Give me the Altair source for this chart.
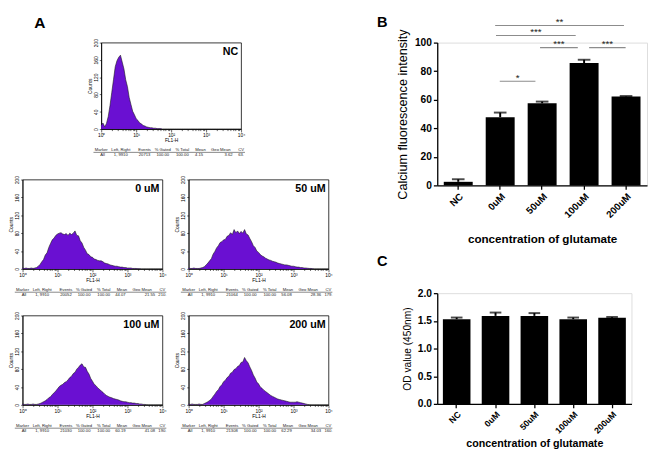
import altair as alt
import pandas as pd

# ---------------- data ----------------
# histogram channel positions (log10 of FL1-H)
FL_LOG = [0.00, 0.05, 0.10, 0.15, 0.20, 0.25, 0.30, 0.35, 0.40, 0.45,
          0.50, 0.55, 0.60, 0.65, 0.70, 0.75, 0.80, 0.85, 0.90, 0.95,
          1.00, 1.05, 1.10, 1.15, 1.20, 1.25, 1.30, 1.35, 1.40, 1.45,
          1.50, 1.55, 1.60, 1.65, 1.70, 1.75, 1.80, 1.85, 1.90, 1.95,
          2.00, 2.05, 2.10, 2.15, 2.20, 2.25, 2.30, 2.35, 2.40, 2.45,
          2.50, 2.55, 2.60, 2.65, 2.70, 2.75, 2.80, 2.85, 2.90, 2.95,
          3.00, 3.05, 3.10, 3.15, 3.20, 3.25, 3.30, 3.35, 3.40, 3.45,
          3.50, 3.55, 3.60, 3.65, 3.70, 3.75, 3.80, 3.85, 3.90, 3.95,
          4.00]

COUNTS_NC = [9, 14, 5, 13, 29, 54, 84, 114, 144, 158,
             166, 171, 155, 139, 114, 98, 73, 57, 41, 33,
             24, 20, 14, 12, 8, 7, 5, 4, 3, 3,
             2, 2, 1, 1, 1, 0, 0, 0, 0, 0,
             0, 0, 0, 0, 0, 0, 0, 0, 0, 0,
             0, 0, 0, 0, 0, 0, 0, 0, 0, 0,
             0, 0, 0, 0, 0, 0, 0, 0, 0, 0,
             0, 0, 0, 0, 0, 0, 0, 0, 0, 0,
             0]
COUNTS_0 = [2, 1, 2, 1, 1, 2, 1, 2, 3, 6,
            10, 16, 21, 31, 36, 48, 57, 65, 69, 75,
            78, 80, 81, 78, 77, 79, 75, 80, 77, 80,
            85, 75, 74, 63, 58, 48, 42, 34, 32, 27,
            26, 22, 21, 19, 18, 18, 16, 13, 12, 11,
            9, 8, 7, 6, 6, 5, 4, 4, 3, 3,
            2, 2, 2, 1, 1, 1, 0.5, 0.5, 0, 0,
            0, 0, 0, 0, 0, 0, 0, 0, 0, 0,
            0]
COUNTS_50 = [2, 1, 1, 2, 1, 1, 1, 2, 3, 5,
             9, 13, 18, 23, 33, 39, 47, 52, 59, 61,
             65, 66, 73, 75, 81, 77, 88, 81, 85, 79,
             84, 80, 88, 78, 76, 68, 61, 52, 48, 40,
             37, 32, 29, 27, 24, 22, 20, 19, 17, 16,
             15, 13, 12, 11, 10, 9, 9, 8, 7, 6,
             6, 5, 4, 4, 3, 3, 2, 2, 1.5, 1,
             1, 0.5, 0, 0, 0, 0, 0, 0, 0, 0,
             0]
COUNTS_100 = [2, 1, 1, 2, 1, 1, 2, 1, 1, 2,
              3, 5, 7, 9, 12, 16, 18, 23, 27, 31,
              36, 41, 44, 46, 50, 52, 56, 61, 64, 70,
              73, 80, 84, 89, 92, 85, 84, 75, 69, 59,
              53, 46, 43, 38, 35, 31, 28, 24, 21, 19,
              17, 16, 14, 13, 12, 11, 9, 8, 7, 7,
              6, 5, 5, 4, 4, 3, 3, 2, 2, 1,
              1, 0.5, 0, 0, 0, 0, 0, 0, 0, 0,
              0]
COUNTS_200 = [2, 1, 2, 1, 1, 1, 2, 1, 1, 3,
              5, 7, 10, 13, 19, 24, 30, 34, 41, 45,
              52, 55, 61, 64, 71, 73, 79, 81, 86, 88,
              95, 96, 106, 99, 94, 85, 77, 67, 60, 51,
              47, 40, 37, 33, 30, 27, 24, 21, 19, 17,
              15, 13, 12, 11, 10, 9, 8, 7, 6, 6,
              6, 6, 7, 6, 5, 4, 3, 2, 1, 0.5,
              0, 0, 0, 0, 0, 0, 0, 0, 0, 0,
              0]

DECADE_VALUES = [1, 10, 100, 1000, 10000]
DECADE_LABELS = ["10\u2070", "10\u00b9", "10\u00b2", "10\u00b3", "10\u2074"]
COUNT_TICKS = [0, 40, 80, 120, 160, 200]

STATS_HEADER = ["Marker", "Left, Right", "Events", "% Gated", "% Total", "Mean", "Geo Mean", "CV"]
STATS_NC = ["All", "1, 9910", "20713", "100.00", "100.00", "4.15", "3.62", "63."]
STATS_0 = ["All", "1, 9910", "20052", "100.00", "100.00", "44.07", "21.55", "210."]
STATS_50 = ["All", "1, 9910", "21064", "100.00", "100.00", "56.08", "28.36", "179."]
STATS_100 = ["All", "1, 9910", "21030", "100.00", "100.00", "60.19", "41.08", "190."]
STATS_200 = ["All", "1, 9910", "21308", "100.00", "100.00", "62.29", "34.03", "160."]

GROUPS = ["NC", "0uM", "50uM", "100uM", "200uM"]
CALCIUM_MEAN = [2.5, 47.8, 57.5, 85.7, 62.3]
CALCIUM_SEM = [1.8, 3.2, 1.2, 2.3, 0.3]
OD_MEAN = [1.53, 1.59, 1.59, 1.53, 1.555]
OD_SEM = [0.03, 0.06, 0.05, 0.03, 0.015]

# significance brackets (positions in group-index units)
SIG_FROM = [0.99, 1.95, 3.12, 0.90, 0.88]
SIG_TO = [1.84, 2.85, 3.99, 2.80, 3.95]
SIG_Y = [73, 96.5, 96.5, 105, 112]
SIG_LABEL = ["*", "***", "***", "***", "**"]

# ---------------- style ----------------
SANS = "Liberation Sans, Arial, sans-serif"
NARROW = "Liberation Sans Narrow, Arial Narrow, Liberation Sans, sans-serif"
PURPLE = "#6a10d2"
HW, HH = 144, 92
HEADER_FRAC = [0.0, 0.14, 0.31, 0.44, 0.58, 0.71, 0.855, 1.0]
VALUE_FRAC = [0.01, 0.14, 0.31, 0.44, 0.58, 0.70, 0.91, 1.0]

label_expr = " : ".join(
    f"datum.value == {v} ? '{t}'" for v, t in zip(DECADE_VALUES, DECADE_LABELS)
) + " : ''"
major_test = "indexof([" + ",".join(str(v) for v in DECADE_VALUES) + "], datum.value) >= 0"


def hist_panel(counts, label, stats, h=HH, letter=None):
    df = pd.DataFrame({"lx": FL_LOG, "count": counts})
    xaxis = alt.Axis(title="FL1-H", titleFontSize=5, titleFontWeight="normal", titlePadding=0.5,
                     labelFontSize=5, labelPadding=0.5, tickCount=10, labelExpr=label_expr,
                     labelOverlap=False, labelFlush=False, grid=False,
                     tickSize={"condition": {"test": major_test, "value": 3}, "value": 1.6},
                     tickWidth=0.6, tickColor="black", domainColor="black", domainWidth=0.8,
                     labelColor="black", titleColor="black")
    yaxis = alt.Axis(title="Counts", titleFontSize=5, titleFontWeight="normal", titlePadding=1,
                     values=COUNT_TICKS, labelAngle=270, labelAlign="center", labelBaseline="bottom",
                     labelFontSize=5, labelPadding=1, tickSize=2, tickWidth=0.6, grid=False,
                     tickColor="black", domainColor="black", domainWidth=0.8,
                     labelColor="black", titleColor="black")
    area = alt.Chart(df).transform_calculate(fl="pow(10, datum.lx)").mark_area(
        color=PURPLE, opacity=1, line={"color": "#1a1a1a", "strokeWidth": 0.6}
    ).encode(
        x=alt.X("fl:Q", scale=alt.Scale(type="log", domain=[1, 10000], nice=False), axis=xaxis),
        y=alt.Y("count:Q", scale=alt.Scale(domain=[0, 200], nice=False), axis=yaxis),
    )
    lab = alt.Chart(pd.DataFrame({"t": [label]})).mark_text(
        align="right", baseline="top", fontSize=11, fontWeight="bold", font=NARROW, color="black"
    ).encode(text="t:N", x=alt.value(HW - 3), y=alt.value(4))
    tdf = pd.DataFrame({
        "txt": STATS_HEADER + stats,
        "px": [f * HW for f in HEADER_FRAC] + [f * HW for f in VALUE_FRAC],
        "py": [h + 21.5] * 8 + [h + 26.5] * 8,
    })
    tbl = alt.Chart(tdf).mark_text(fontSize=4.3, baseline="middle", align="center", color="#222", font=SANS).encode(
        text="txt:N", x=alt.X("px:Q", scale=None), y=alt.Y("py:Q", scale=None))
    uline = alt.Chart(pd.DataFrame({"a": [0]})).mark_rule(color="#333", strokeWidth=0.6).encode(
        x=alt.value(-8), x2=alt.value(HW + 4), y=alt.value(h + 24))
    layers = [area, lab, tbl, uline]
    if letter:
        layers.append(alt.Chart(pd.DataFrame({"t": [letter]})).mark_text(
            align="left", baseline="top", fontSize=16, fontWeight="bold", font=SANS, color="black"
        ).encode(text="t:N", x=alt.value(-69), y=alt.value(-28)))
    return alt.layer(*layers).properties(
        width=HW, height=h, view=alt.ViewBackground(stroke="black", strokeWidth=0.8))


def bar_panel(means, sems, w, h, domain, ticks, fmt, ytitle, tsize, letter, lpos, pad_in, cap,
              xtitle_size, xtitle_pad, xlabel_size, sig=None):
    df = pd.DataFrame({"group": GROUPS, "mean": means, "sem": sems})
    xaxis = alt.Axis(title="concentration of glutamate", titleFontSize=xtitle_size, titleFontWeight="bold",
                     titlePadding=xtitle_pad, labelAngle=-45, labelFontSize=xlabel_size, labelFontWeight="bold",
                     labelPadding=2, tickSize=4, tickWidth=1.3, domainWidth=1.3, domainColor="black",
                     tickColor="black", labelColor="black", titleColor="black")
    yaxis = alt.Axis(title=ytitle, titleFontSize=tsize, titleFontWeight="normal", titlePadding=5,
                     values=ticks, format=fmt, labelFontSize=10.5, labelFontWeight="bold", labelPadding=2,
                     tickSize=4, tickWidth=1.3, domainWidth=1.3, domainColor="black", tickColor="black",
                     grid=False, labelColor="black", titleColor="black")
    xs = alt.Scale(paddingInner=pad_in, paddingOuter=pad_in / 2)
    ys = alt.Scale(domain=domain, nice=False)
    X = alt.X("group:N", sort=GROUPS, scale=xs, axis=xaxis)
    bars = alt.Chart(df).mark_bar(color="black").encode(x=X, y=alt.Y("mean:Q", scale=ys, axis=yaxis))
    base = alt.Chart(df).transform_calculate(hi="datum.mean + datum.sem")
    err = base.mark_rule(color="black", strokeWidth=2).encode(
        x=X, y=alt.Y("mean:Q", scale=ys, axis=yaxis), y2="hi:Q")
    capm = base.mark_tick(color="black", thickness=2, size=cap).encode(
        x=X, y=alt.Y("hi:Q", scale=ys, axis=yaxis))
    main = alt.layer(bars, err, capm)
    layers = [main]
    if sig is not None:
        sdf = pd.DataFrame({"x1": sig[0], "x2": sig[1], "y": sig[2], "label": sig[3]})
        qs = alt.Scale(domain=[-0.5, 4.5], nice=False, zero=False)
        rules = alt.Chart(sdf).mark_rule(color="#8c8c8c", strokeWidth=1.1).encode(
            x=alt.X("x1:Q", scale=qs, axis=None), x2="x2:Q", y=alt.Y("y:Q", scale=ys, axis=yaxis))
        stars = alt.Chart(sdf).transform_calculate(xm="(datum.x1 + datum.x2) / 2").mark_text(
            fontSize=10, baseline="alphabetic", dy=-0.5, color="#222", font=SANS
        ).encode(x=alt.X("xm:Q", scale=qs, axis=None), y=alt.Y("y:Q", scale=ys, axis=yaxis), text="label:N")
        layers.append(alt.layer(rules, stars))
    layers.append(alt.Chart(pd.DataFrame({"t": [letter]})).mark_text(
        align="left", baseline="top", fontSize=15, fontWeight="bold", font=SANS, color="black"
    ).encode(text="t:N", x=alt.value(lpos[0]), y=alt.value(lpos[1])))
    return alt.layer(*layers).resolve_scale(x="independent").properties(width=w, height=h)


nc = hist_panel(COUNTS_NC, "NC", STATS_NC, h=89, letter="A")
h0 = hist_panel(COUNTS_0, "0 uM", STATS_0)
h50 = hist_panel(COUNTS_50, "50 uM", STATS_50)
h100 = hist_panel(COUNTS_100, "100 uM", STATS_100)
h200 = hist_panel(COUNTS_200, "200 uM", STATS_200)

spacer = alt.Chart(pd.DataFrame({"a": [0]})).mark_point(opacity=0).encode(
    x=alt.value(0), y=alt.value(0)).properties(
    width=11, height=5, view=alt.ViewBackground(stroke=None, fill=None, strokeOpacity=0))

row1 = alt.hconcat(spacer, nc, spacing=0)
row2 = alt.hconcat(h0, h50, spacing=7)
row3 = alt.hconcat(h100, h200, spacing=7)
left = alt.vconcat(row1, alt.vconcat(row2, row3, spacing=13), spacing=17)

chartB = bar_panel(CALCIUM_MEAN, CALCIUM_SEM, 216, 147, [0, 100], [0, 20, 40, 60, 80, 100], "d",
                   "Calcium fluorescence intensity", 13, "B", (-62, -28), 0.31, 13, 12, 15, 10,
                   sig=(SIG_FROM, SIG_TO, SIG_Y, SIG_LABEL))
chartC = bar_panel(OD_MEAN, OD_SEM, 200, 114, [0, 2], [0, 0.5, 1.0, 1.5, 2.0], ".1f",
                   "OD value (450nm)", 10.5, "C", (-62, -40), 0.29, 12, 11, 3, 9)
right = alt.vconcat(chartB, chartC, spacing=8)

chart = alt.hconcat(left, right, spacing=44).properties(
    padding={"left": 0, "top": 0, "right": 0, "bottom": 0}
).configure_view(stroke=None).configure(font=SANS)

chart.save("out.html", embed_options={"renderer": "svg", "actions": False})
